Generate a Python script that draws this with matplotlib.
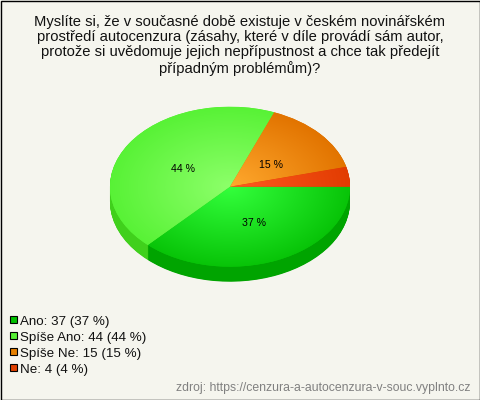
import matplotlib
matplotlib.use("Agg")
import matplotlib.pyplot as plt
from matplotlib.colors import LinearSegmentedColormap
from matplotlib.patches import Rectangle
import numpy as np

title = ("Myslíte si, že v současné době existuje v českém novinářském\n"
         "prostředí autocenzura (zásahy, které v díle provádí sám autor,\n"
         "protože si uvědomuje jejich nepřípustnost a chce tak předejít\n"
         "případným problémům)?")
categories = ["Ano", "Spíše Ano", "Spíše Ne", "Ne"]
values = [37, 44, 15, 4]
source = "zdroj: https://cenzura-a-autocenzura-v-souc.vyplnto.cz"

# colours per slice: centre of the gradient, rim, side wall, legend box
inner_colors = ["#33ff3c", "#8dff6a", "#ffa92e", "#ff5a20"]
outer_colors = ["#08c408", "#58f236", "#e27400", "#e23c02"]
side_colors = ["#00a400", "#40d01c", "#c86400", "#c83000"]
legend_colors = ["#00c000", "#55ee33", "#e68000", "#e04000"]
bg = "#f5f5ee"

plt.rcParams["font.family"] = ["Liberation Sans", "DejaVu Sans"]

W, H = 480, 400
fig = plt.figure(figsize=(W / 100, H / 100), dpi=100, facecolor=bg)

# page axes in pixel coordinates for texts and legend
page = fig.add_axes([0, 0, 1, 1])
page.set_xlim(0, W)
page.set_ylim(H, 0)
page.axis("off")
page.add_patch(Rectangle((0.5, 0.5), W - 1, H - 1, fill=False, ec="black", lw=1))

page.text(240, 15, title, ha="center", va="top", fontsize=10.6, color="#111111",
          linespacing=1.11)

for i, cat in enumerate(categories):
    y = 320 + i * 16
    page.add_patch(Rectangle((9.5, y - 4), 7, 7, fc=legend_colors[i], ec="black", lw=0.8))
    page.text(20, y + 1.5, f"{cat}: {values[i]} ({values[i]} %)", ha="left", va="center",
              fontsize=9.6, color="#111111")

page.text(470, 388.5, source, ha="right", va="center", fontsize=8.8, color="#808080")

# pie axes, squashed so the circle becomes the ellipse
cx, cy, rx, ry, depth = 230, 186.7, 120, 80, 15
ax = fig.add_axes([(cx - rx) / W, 1 - (cy + ry + depth) / H, 2 * rx / W, (2 * ry + depth) / H])

# side wall: stack of shifted pies
for d in np.arange(depth, 0, -0.5):
    ax.pie(values, colors=side_colors, startangle=0, counterclock=False,
           center=(0, -d / ry), radius=1, wedgeprops={"lw": 0}, normalize=True)

# the smallest slice gets no label, same as the original
wedges, _, autotexts = ax.pie(values, colors=outer_colors, startangle=0, counterclock=False,
                              wedgeprops={"lw": 0},
                              autopct=lambda p: f"{p:.0f} %" if p >= 5 else "",
                              pctdistance=0.5, textprops={"fontsize": 7.6, "color": "black"})

# radial gradient on the top face
xx, yy = np.meshgrid(np.linspace(-1, 1, 400), np.linspace(-1, 1, 400))
rr = np.hypot(xx, yy)
for w, c0, c1 in zip(wedges, inner_colors, outer_colors):
    cmap = LinearSegmentedColormap.from_list("slice", [c0, c1])
    im = ax.imshow(rr, extent=(-1, 1, -1, 1), origin="lower", cmap=cmap, vmin=0, vmax=1,
                   aspect="auto", zorder=w.get_zorder() + 0.5)
    im.set_clip_path(w)

for t in autotexts:
    t.set_zorder(10)
autotexts[1].set_position((autotexts[1].get_position()[0] + 0.03, autotexts[1].get_position()[1] - 0.05))
autotexts[2].set_position((autotexts[2].get_position()[0] - 0.03, autotexts[2].get_position()[1] - 0.06))

ax.set_aspect("auto")
ax.set_xlim(-1, 1)
ax.set_ylim(-1 - depth / ry, 1)
ax.axis("off")

fig.savefig("out.png", dpi=100, facecolor=bg)
